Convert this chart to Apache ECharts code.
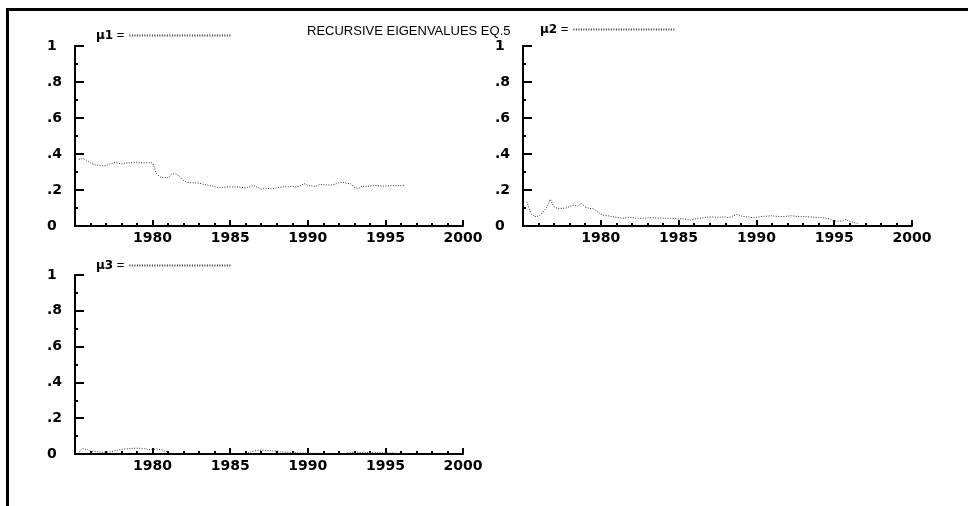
<!DOCTYPE html>
<html>
<head>
<meta charset="utf-8">
<script src="https://cdn.jsdelivr.net/npm/echarts@6/dist/echarts.min.js"></script>
<style>
html, body { margin: 0; padding: 0; background: #fff; }
#main { width: 968px; height: 506px; }
</style>
</head>
<body>
<div id="main"></div>
<script>
// quarterly samples, first one at 1975 Q2
var startYear = 1975.25;
var yTicks = [0, 0.2, 0.4, 0.6, 0.8, 1];
var xTicks = [1980, 1985, 1990, 1995, 2000];

var mu1 = [.37, .375, .365, .35, .34, .338, .335, .335, .345, .352, .35, .345, .35, .35, .352, .355, .352, .35, .352, .35,
    .29, .272, .27, .268, .29, .29, .275, .252, .242, .24, .24, .238, .232, .228, .225, .218, .213, .213, .217, .217,
    .217, .217, .215, .212, .218, .225, .215, .204, .21, .208, .206, .212, .216, .218, .218, .22, .216, .222, .236, .226,
    .222, .22, .23, .23, .228, .228, .232, .24, .242, .238, .235, .215, .208, .222, .218, .222, .226, .224, .222, .222,
    .224, .224, .224, .224, .225];

var mu2 = [.135, .07, .052, .055, .075, .10, .148, .105, .098, .098, .10, .108, .116, .11, .125, .105, .098, .096, .082, .065,
    .058, .056, .052, .048, .045, .043, .048, .047, .043, .043, .043, .045, .046, .045, .044, .043, .043, .043, .042, .04,
    .04, .036, .033, .038, .042, .045, .048, .05, .05, .048, .05, .05, .046, .056, .065, .056, .052, .05, .046, .048,
    .052, .054, .055, .057, .054, .052, .052, .055, .057, .054, .052, .052, .052, .05, .048, .048, .046, .043, .038, .028,
    .027, .028, .036, .026, .02, .015];

var mu3 = [.01, .03, .025, .017, .014, .012, .01, .01, .012, .016, .022, .026, .028, .03, .032, .032, .032, .03, .025, .025,
    .028, .025, .018, .01, .002, 0, 0, 0, .001, 0, 0, .002, 0, 0, 0, .003, 0, 0, .002, 0,
    0, .003, 0, 0, .01, .015, .02, .022, .02, .018, .017, .016, .012, .01, .01, .008, .007, .006, .005, .005,
    .004, .004, .004, .003, .002, 0, 0, 0, .002, .005, .008, .01, .01, .01, .009, .008, .008, .007, .007, .006,
    .006, .005, .004, .004, .003, 0];

function toPairs(vals) {
    var out = [];
    for (var i = 0; i < vals.length; i++) {
        out.push([startYear + i / 4, vals[i]]);
    }
    return out;
}

var tickFont = { fontFamily: 'DejaVu Sans', fontWeight: 'bold', fontSize: 14, color: '#000' };
var axisLine = { show: true, lineStyle: { color: '#000', width: 2 } };

function makeX(idx) {
    return {
        type: 'value', gridIndex: idx, min: 1975, max: 2000, interval: 5,
        axisLine: axisLine,
        axisTick: { show: true, inside: true, length: 6, lineStyle: { color: '#000', width: 2 } },
        minorTick: { show: true, splitNumber: 5, length: 3, lineStyle: { color: '#000', width: 2 } },
        splitLine: { show: false },
        axisLabel: Object.assign({
            margin: 5, showMinLabel: false,
            formatter: function (v) { return xTicks.indexOf(v) >= 0 ? String(v) : ''; }
        }, tickFont)
    };
}

function makeY(idx) {
    return {
        type: 'value', gridIndex: idx, min: 0, max: 1, interval: 0.2,
        axisLine: axisLine,
        axisTick: { show: true, inside: true, length: 9, lineStyle: { color: '#000', width: 2 } },
        minorTick: { show: true, splitNumber: 2, length: 3, lineStyle: { color: '#000', width: 2 } },
        splitLine: { show: false },
        axisLabel: Object.assign({
            margin: 28, align: 'left',
            formatter: function (v) {
                if (yTicks.indexOf(v) < 0) return '';
                return v === 0 ? '0' : v === 1 ? '1' : String(v).replace('0.', '.');
            }
        }, tickFont)
    };
}

function makeSeries(name, idx, vals) {
    return {
        name: name, type: 'line', xAxisIndex: idx, yAxisIndex: idx,
        data: toPairs(vals), symbol: 'none', silent: true,
        itemStyle: { color: 'rgba(0,0,0,0)' },
        lineStyle: { color: '#333', width: 1, type: [1, 1.5] }
    };
}

function makeLegend(name, left, top) {
    return {
        data: [name], left: left, top: top, align: 'right',
        itemWidth: 102, itemHeight: 8, selectedMode: false,
        formatter: function (n) { return '{b|' + n + '}{e| =}'; },
        textStyle: {
            color: '#000',
            rich: {
                b: { fontFamily: 'DejaVu Sans', fontWeight: 'bold', fontSize: 12, color: '#000' },
                e: { fontFamily: 'Liberation Sans', fontSize: 13, color: '#000' }
            }
        }
    };
}

var myChart = echarts.init(document.getElementById('main'));
var option = {
    backgroundColor: '#fff',
    animation: false,
    title: {
        text: 'RECURSIVE EIGENVALUES EQ.5', left: 302, top: 20,
        textStyle: { fontFamily: 'Liberation Sans', fontWeight: 'normal', fontSize: 13, color: '#000' }
    },
    graphic: [{
        type: 'rect', shape: { x: 7.5, y: 9.5, width: 1000, height: 600 },
        style: { fill: null, stroke: '#000', lineWidth: 3 }, silent: true
    }],
    legend: [
        makeLegend('μ1', 91, 24),
        makeLegend('μ2', 535, 18),
        makeLegend('μ3', 91, 254)
    ],
    grid: [
        { left: 75, top: 46, width: 388, height: 180 },
        { left: 523, top: 46, width: 389, height: 180 },
        { left: 75, top: 275, width: 388, height: 179 }
    ],
    xAxis: [makeX(0), makeX(1), makeX(2)],
    yAxis: [makeY(0), makeY(1), makeY(2)],
    series: [
        makeSeries('μ1', 0, mu1),
        makeSeries('μ2', 1, mu2),
        makeSeries('μ3', 2, mu3)
    ]
};
myChart.setOption(option);
</script>
</body>
</html>
